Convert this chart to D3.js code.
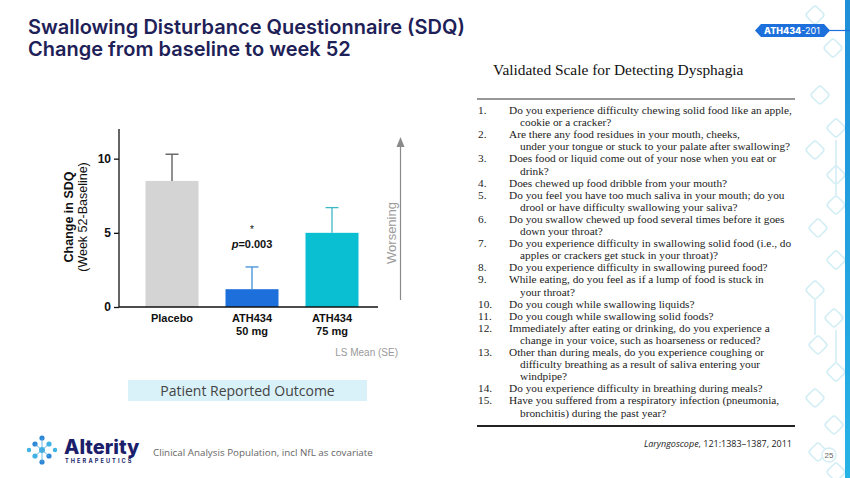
<!DOCTYPE html>
<meta charset="utf-8">
<style>
  body { margin: 0; background: #fff; }
  svg { display: block; }
  .tick text { font-family: "Liberation Sans", Arial, sans-serif; font-weight: bold; font-size: 12px; fill: #111; }
  .axis path, .axis line { stroke: #111; stroke-width: 1.3; }
</style>
<body>
<svg width="850" height="478"></svg>
<script src="https://cdn.jsdelivr.net/npm/d3@7"></script>
<script>
// chart data
const groups = ["Placebo", "ATH434 50 mg", "ATH434 75 mg"];
const groupLines = [["Placebo"], ["ATH434", "50 mg"], ["ATH434", "75 mg"]];
const lsMean = [8.5, 1.2, 5.0];
const se = [1.8, 1.5, 1.7];
const barColors = ["#d4d4d4", "#1d6fdc", "#0bbfd3"];
const errColors = ["#555555", "#3f8fd9", "#3fb8c6"];
const yTicks = [0, 5, 10];

// questionnaire items
const itemNums = ["1.", "2.", "3.", "4.", "5.", "6.", "7.", "8.", "9.", "10.", "11.", "12.", "13.", "14.", "15."];
const itemText = [
  ["Do you experience difficulty chewing solid food like an apple,", "cookie or a cracker?"],
  ["Are there any food residues in your mouth, cheeks,", "under your tongue or stuck to your palate after swallowing?"],
  ["Does food or liquid come out of your nose when you eat or", "drink?"],
  ["Does chewed up food dribble from your mouth?"],
  ["Do you feel you have too much saliva in your mouth; do you", "drool or have difficulty swallowing your saliva?"],
  ["Do you swallow chewed up food several times before it goes", "down your throat?"],
  ["Do you experience difficulty in swallowing solid food (i.e., do", "apples or crackers get stuck in your throat)?"],
  ["Do you experience difficulty in swallowing pureed food?"],
  ["While eating, do you feel as if a lump of food is stuck in", "your throat?"],
  ["Do you cough while swallowing liquids?"],
  ["Do you cough while swallowing solid foods?"],
  ["Immediately after eating or drinking, do you experience a", "change in your voice, such as hoarseness or reduced?"],
  ["Other than during meals, do you experience coughing or", "difficulty breathing as a result of saliva entering your", "windpipe?"],
  ["Do you experience difficulty in breathing during meals?"],
  ["Have you suffered from a respiratory infection (pneumonia,", "bronchitis) during the past year?"]
];

const svg = d3.select("svg");
const sans = "'Liberation Sans', Arial, sans-serif";
const serif = "'Liberation Serif', 'Times New Roman', serif";

// ---- right edge decoration ----
const grad = svg.append("defs").append("linearGradient")
    .attr("id", "edge").attr("x1", 0).attr("y1", 0).attr("x2", 0).attr("y2", 1);
grad.append("stop").attr("offset", "0").attr("stop-color", "#1f8fd8");
grad.append("stop").attr("offset", "1").attr("stop-color", "#27b3e6");

const deco = svg.append("g").attr("fill", "none").attr("stroke", "#d3eef5").attr("stroke-width", 1.6);
const diamonds = [[815, 15], [833, 48], [820, 95], [836, 128], [815, 150], [836, 175], [836, 205], [818, 228],
  [836, 260], [815, 290], [834, 318], [818, 345], [836, 372], [815, 398], [834, 425], [818, 452], [836, 472]];
diamonds.forEach(([cx, cy]) => {
  deco.append("rect").attr("x", cx - 7).attr("y", cy - 7).attr("width", 14).attr("height", 14)
    .attr("rx", 3).attr("transform", `rotate(45,${cx},${cy})`);
});
deco.append("line").attr("x1", 836).attr("x2", 836).attr("y1", 140).attr("y2", 195);
deco.append("line").attr("x1", 815).attr("x2", 815).attr("y1", 300).attr("y2", 335);
deco.append("line").attr("x1", 836).attr("x2", 836).attr("y1", 330).attr("y2", 362);

svg.append("rect").attr("x", 845).attr("y", 0).attr("width", 5).attr("height", 478).attr("fill", "url(#edge)");

// pill tag
svg.append("line").attr("x1", 828).attr("x2", 850).attr("y1", 30.5).attr("y2", 30.5)
    .attr("stroke", "#1d6fdc").attr("stroke-width", 1.2);
svg.append("path")
    .attr("d", "M761,24 L824,24 L830,30.5 L824,37 L761,37 L755,30.5 Z")
    .attr("fill", "#1d6fdc");
const pill = svg.append("text").attr("x", 792).attr("y", 34)
    .attr("text-anchor", "middle").attr("font-family", "Inter, 'Open Sans', sans-serif")
    .attr("font-size", 9).attr("fill", "#fff");
pill.append("tspan").attr("font-weight", 800).text("ATH434");
pill.append("tspan").attr("font-weight", 400).text("-201");

// page number
svg.append("circle").attr("cx", 829).attr("cy", 455).attr("r", 7)
    .attr("fill", "#fff").attr("stroke", "#d3eef5").attr("stroke-width", 1.4);
svg.append("text").attr("x", 829).attr("y", 458).attr("text-anchor", "middle")
    .attr("font-family", sans).attr("font-size", 8).attr("fill", "#666").text("25");

// ---- title ----
const title = svg.append("text").attr("font-family", "Inter, 'Open Sans', sans-serif")
    .attr("font-weight", 600).attr("font-size", 20).attr("fill", "#1e2157");
title.append("tspan").attr("x", 28).attr("y", 34).text("Swallowing Disturbance Questionnaire (SDQ)");
title.append("tspan").attr("x", 28).attr("y", 56).text("Change from baseline to week 52");

// ---- bar chart ----
const x = d3.scaleBand().domain(groups).range([132, 372]).paddingInner(0.3375).paddingOuter(0.16875);
const y = d3.scaleLinear().domain([0, 12]).range([307, 129]);

const chart = svg.append("g");

chart.selectAll(".bar").data(groups).enter().append("rect")
    .attr("class", "bar")
    .attr("x", d => x(d))
    .attr("y", (d, i) => y(lsMean[i]))
    .attr("width", x.bandwidth())
    .attr("height", (d, i) => y(0) - y(lsMean[i]))
    .attr("fill", (d, i) => barColors[i]);

// error bars (upper only)
const eb = chart.selectAll(".err").data(groups).enter().append("g").attr("class", "err")
    .attr("stroke", (d, i) => errColors[i]).attr("stroke-width", 1.3);
eb.append("line")
    .attr("x1", d => x(d) + x.bandwidth() / 2)
    .attr("x2", d => x(d) + x.bandwidth() / 2)
    .attr("y1", (d, i) => y(lsMean[i]))
    .attr("y2", (d, i) => y(lsMean[i] + se[i]));
eb.append("line")
    .attr("x1", d => x(d) + x.bandwidth() / 2 - 6.5)
    .attr("x2", d => x(d) + x.bandwidth() / 2 + 6.5)
    .attr("y1", (d, i) => y(lsMean[i] + se[i]))
    .attr("y2", (d, i) => y(lsMean[i] + se[i]));

// axes
chart.append("g").attr("class", "axis")
    .attr("transform", "translate(119,0)")
    .call(d3.axisLeft(y).tickValues(yTicks).tickSize(5).tickPadding(3).tickSizeOuter(0))
    .call(g => g.select(".domain").attr("d", `M0,${y(12)}V${y(0)}`));

chart.append("line").attr("x1", 119).attr("x2", 378).attr("y1", y(0)).attr("y2", y(0))
    .attr("stroke", "#111").attr("stroke-width", 1.3);

// category labels
groupLines.forEach((lines, i) => {
  const t = chart.append("text").attr("text-anchor", "middle")
      .attr("font-family", sans).attr("font-weight", "bold").attr("font-size", 11).attr("fill", "#111");
  lines.forEach((s, j) => {
    t.append("tspan").attr("x", x(groups[i]) + x.bandwidth() / 2).attr("y", 322 + j * 13).text(s);
  });
});

// y title
const yt = chart.append("text").attr("transform", "translate(73,217) rotate(-90)")
    .attr("text-anchor", "middle").attr("font-family", sans).attr("font-size", 12.5).attr("fill", "#111");
yt.append("tspan").attr("x", 0).attr("y", 0).attr("font-weight", "bold").text("Change in SDQ");
yt.append("tspan").attr("x", 0).attr("y", 14).text("(Week 52-Baseline)");

// significance
const cx50 = x(groups[1]) + x.bandwidth() / 2;
chart.append("text").attr("x", cx50).attr("y", 233).attr("text-anchor", "middle")
    .attr("font-family", sans).attr("font-size", 10).attr("fill", "#111").text("*");
const pv = chart.append("text").attr("x", cx50).attr("y", 248).attr("text-anchor", "middle")
    .attr("font-family", sans).attr("font-weight", "bold").attr("font-size", 11).attr("fill", "#111");
pv.append("tspan").attr("font-style", "italic").text("p");
pv.append("tspan").text("=0.003");

// worsening arrow
chart.append("line").attr("x1", 400.5).attr("x2", 400.5).attr("y1", 300).attr("y2", 146)
    .attr("stroke", "#8a8a8a").attr("stroke-width", 1.2);
chart.append("path").attr("d", "M400.5,137 L396.5,147 L404.5,147 Z").attr("fill", "#8a8a8a");
chart.append("text").attr("transform", "translate(396,233) rotate(-90)")
    .attr("text-anchor", "middle").attr("font-family", sans).attr("font-size", 13)
    .attr("fill", "#9a9a9a").text("Worsening");

chart.append("text").attr("x", 398).attr("y", 356).attr("text-anchor", "end")
    .attr("font-family", sans).attr("font-size", 10).attr("fill", "#9a9a9a").text("LS Mean (SE)");

// patient reported outcome box
svg.append("rect").attr("x", 128).attr("y", 380).attr("width", 239).attr("height", 21).attr("fill", "#d9f1f8");
svg.append("text").attr("x", 247.5).attr("y", 396).attr("text-anchor", "middle")
    .attr("font-family", "'Open Sans', sans-serif").attr("font-size", 14).attr("fill", "#444")
    .text("Patient Reported Outcome");

// ---- questionnaire ----
const q = svg.append("g").attr("font-family", serif).attr("fill", "#222");
q.append("text").attr("x", 493).attr("y", 75).attr("font-size", 15.4).attr("fill", "#111")
    .text("Validated Scale for Detecting Dysphagia");
q.append("line").attr("x1", 477).attr("x2", 795).attr("y1", 99).attr("y2", 99)
    .attr("stroke", "#333").attr("stroke-width", 1.2);

let lineIdx = 0;
itemText.forEach((lines, i) => {
  q.append("text").attr("x", 478).attr("y", 114 + lineIdx * 12.1).attr("font-size", 11.3).text(itemNums[i]);
  lines.forEach((s, j) => {
    q.append("text").attr("x", j === 0 ? 509 : 520).attr("y", 114 + lineIdx * 12.1)
        .attr("font-size", 11.3).text(s);
    lineIdx++;
  });
});
q.append("line").attr("x1", 477).attr("x2", 795).attr("y1", 426).attr("y2", 426)
    .attr("stroke", "#222").attr("stroke-width", 2);

const cite = svg.append("text").attr("x", 792).attr("y", 447).attr("text-anchor", "end")
    .attr("font-family", "'Open Sans', sans-serif").attr("font-size", 9).attr("fill", "#222");
cite.append("tspan").attr("font-style", "italic").text("Laryngoscope");
cite.append("tspan").text(", 121:1383\u20131387, 2011");

// ---- logo and footnote ----
const logo = svg.append("g");
const dots = [[29, 450, 2.2], [35, 444, 2.6], [35, 456, 2.6], [42, 438, 2.6], [42, 450, 3], [42, 462, 2.6],
  [49, 444, 2.6], [49, 456, 2.6], [55, 450, 2.2]];
logo.selectAll("circle").data(dots).enter().append("circle")
    .attr("cx", d => d[0]).attr("cy", d => d[1]).attr("r", d => d[2])
    .attr("fill", (d, i) => i % 2 ? "#2e86d6" : "#3fb3e3");
logo.append("path").attr("d", "M42,438 V462 M35,444 L49,456 M35,456 L49,444")
    .attr("stroke", "#4aa8e0").attr("stroke-width", 0.8).attr("fill", "none");
logo.append("text").attr("x", 64).attr("y", 454).attr("font-family", "Inter, 'Open Sans', sans-serif")
    .attr("font-weight", 800).attr("font-size", 20).attr("fill", "#1b1f6b").text("Alterity");
logo.append("text").attr("x", 65).attr("y", 463).attr("font-family", "Inter, sans-serif")
    .attr("font-weight", 700).attr("font-size", 5.6).attr("letter-spacing", 2.1).attr("fill", "#1b1f6b")
    .text("THERAPEUTICS");

svg.append("text").attr("x", 153).attr("y", 456).attr("font-family", "'Open Sans', sans-serif")
    .attr("font-size", 9.8).attr("fill", "#666").text("Clinical Analysis Population, incl NfL as covariate");
</script>
</body>
</html>
